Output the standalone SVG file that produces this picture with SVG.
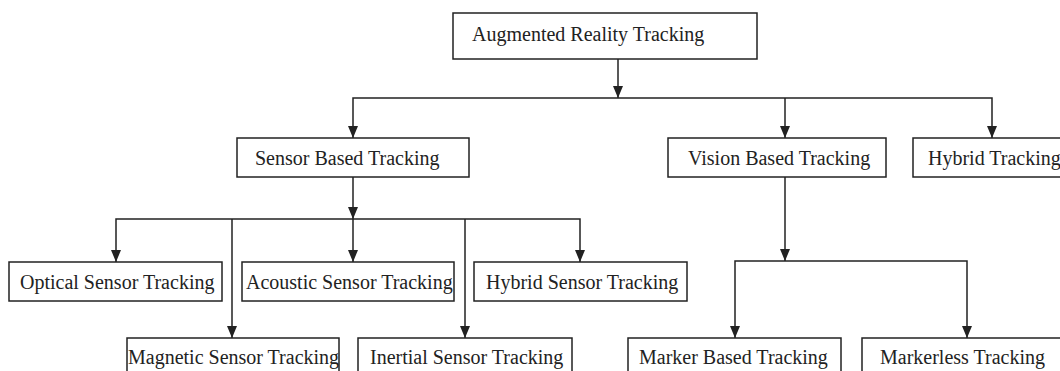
<svg xmlns="http://www.w3.org/2000/svg" width="1060" height="371" viewBox="0 0 1060 371">
<style>
.box{fill:#fff;stroke:#222;stroke-width:1.5}
.t{font-family:"Liberation Serif","Times New Roman",serif;font-size:20px;fill:#222}
.c{fill:none;stroke:#222;stroke-width:1.5}
</style>
<defs>
<marker id="ah" viewBox="0 0 12 10" refX="12" refY="5" markerWidth="12" markerHeight="10" markerUnits="userSpaceOnUse" orient="auto-start-reverse">
<path d="M0,0 L12,5 L0,10 Z" fill="#222"/>
</marker>
</defs>
<rect width="1060" height="371" fill="#fff"/>
<g id="connectors">
<path class="c" d="M618,59 V98" marker-end="url(#ah)"/>
<path class="c" d="M353,138 V98 H992 V138" marker-end="url(#ah)" marker-start="url(#ah)"/>
<path class="c" d="M785,98 V138" marker-end="url(#ah)"/>
<path class="c" d="M353,177 V219" marker-end="url(#ah)"/>
<path class="c" d="M116,262 V219 H580 V262" marker-start="url(#ah)" marker-end="url(#ah)"/>
<path class="c" d="M353,219 V262" marker-end="url(#ah)"/>
<path class="c" d="M232,219 V338" marker-end="url(#ah)"/>
<path class="c" d="M465,219 V338" marker-end="url(#ah)"/>
<path class="c" d="M785,177 V261" marker-end="url(#ah)"/>
<path class="c" d="M735,338 V261 H967 V338" marker-start="url(#ah)" marker-end="url(#ah)"/>
</g>
<g id="n-ar"><rect class="box" x="453" y="13" width="304" height="46"/><text class="t" x="472" y="41">Augmented Reality Tracking</text></g>
<g id="n-sensor"><rect class="box" x="237" y="138" width="232" height="39"/><text class="t" x="255" y="165">Sensor Based Tracking</text></g>
<g id="n-vision"><rect class="box" x="668" y="138" width="218" height="39"/><text class="t" x="688" y="165">Vision Based Tracking</text></g>
<g id="n-hybrid"><rect class="box" x="913" y="138" width="160" height="39"/><text class="t" x="928" y="165">Hybrid Tracking</text></g>
<g id="n-optical"><rect class="box" x="9" y="262" width="213" height="39"/><text class="t" x="20" y="289">Optical Sensor Tracking</text></g>
<g id="n-acoustic"><rect class="box" x="242" y="262" width="212" height="39"/><text class="t" x="246" y="289">Acoustic Sensor Tracking</text></g>
<g id="n-hybridsensor"><rect class="box" x="474" y="262" width="213" height="39"/><text class="t" x="486" y="289">Hybrid Sensor Tracking</text></g>
<g id="n-magnetic"><rect class="box" x="127" y="338" width="212" height="45"/><text class="t" x="128" y="364">Magnetic Sensor Tracking</text></g>
<g id="n-inertial"><rect class="box" x="358" y="338" width="214" height="45"/><text class="t" x="370" y="364">Inertial Sensor Tracking</text></g>
<g id="n-marker"><rect class="box" x="628" y="338" width="213" height="45"/><text class="t" x="639" y="364">Marker Based Tracking</text></g>
<g id="n-markerless"><rect class="box" x="862" y="338" width="210" height="45"/><text class="t" x="880" y="364">Markerless Tracking</text></g>
</svg>
